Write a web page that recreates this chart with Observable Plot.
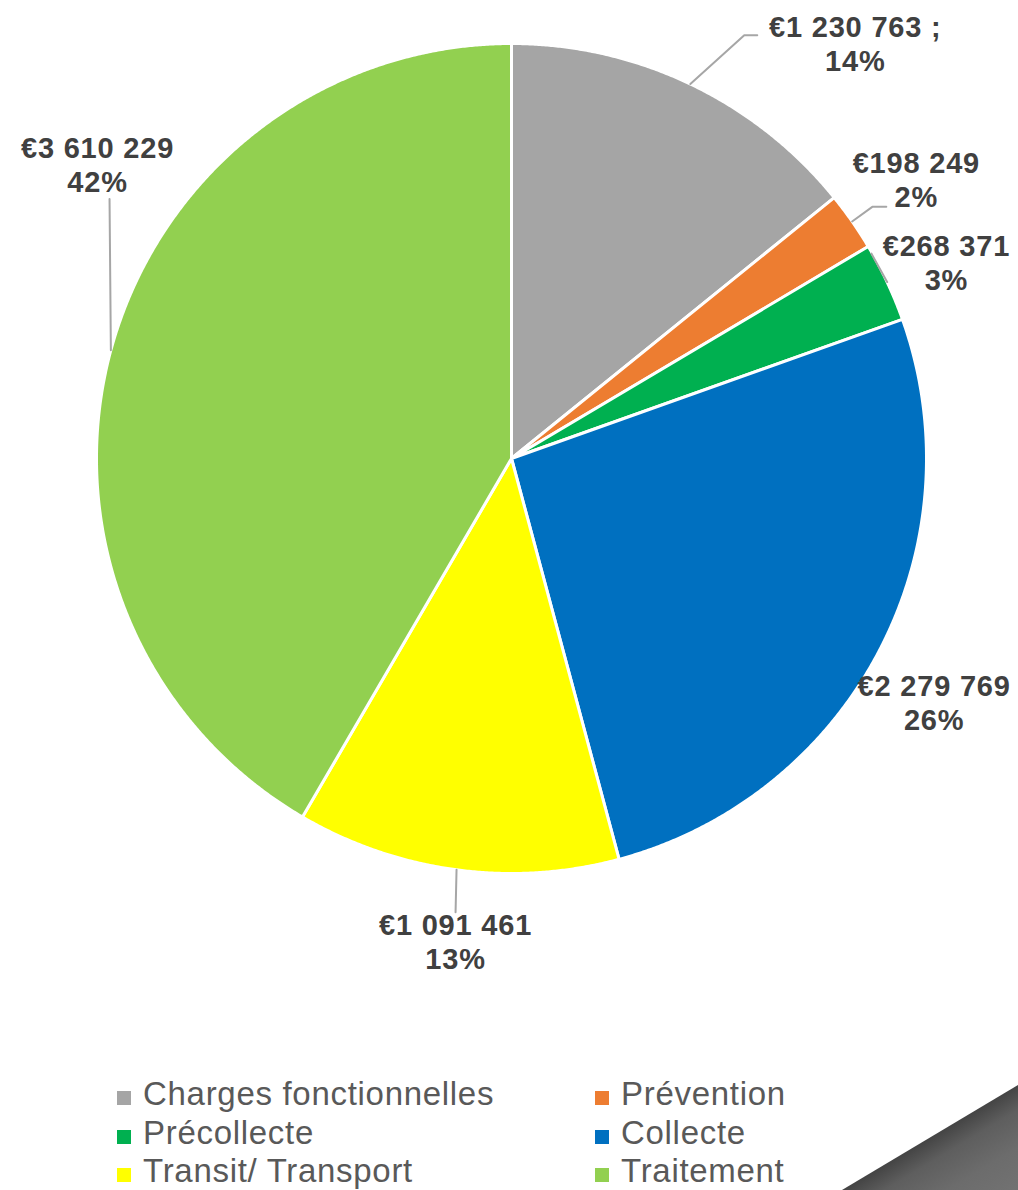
<!DOCTYPE html>
<html>
<head>
<meta charset="utf-8">
<script src="https://cdn.jsdelivr.net/npm/d3@7"></script>
<script src="https://cdn.jsdelivr.net/npm/@observablehq/plot@0.6"></script>
<style>
  html, body { margin: 0; padding: 0; background: #fff; }
  body { position: relative; width: 1018px; height: 1190px; overflow: hidden; font-family: "Liberation Sans", Arial, sans-serif; }
  #legend { position: absolute; left: 117px; top: 1075px; display: grid; grid-template-columns: 478px auto; font-size: 33px; line-height: 38.5px; color: #595959; letter-spacing: 0.7px; }
  #legend .item { white-space: nowrap; }
  #legend .sw { display: inline-block; width: 14px; height: 14px; margin-right: 12px; vertical-align: 0px; }
  #deco { position: absolute; left: 842px; top: 1085px; width: 176px; height: 105px;
    clip-path: polygon(100% 0, 0 100%, 100% 100%);
    background: linear-gradient(149deg, #444 50%, #5e5e5e 62%, #6c6c6c 80%, #727272 100%); }
</style>
</head>
<body>
<div id="chart"></div>
<div id="legend"></div>
<div id="deco"></div>
<script>
// ---- data ----
const categories = ["Charges fonctionnelles", "Prévention", "Précollecte", "Collecte", "Transit/ Transport", "Traitement"];
const values = [1230763, 198249, 268371, 2279769, 1091461, 3610229];
const separators = [" ;", "", "", "", "", ""];
const colors = ["#a5a5a5", "#ed7d31", "#00b050", "#0070c0", "#ffff00", "#92d050"];

// ---- layout (pixels) ----
const W = 1018, H = 1040, CX = 511, CY = 458, R = 415;
// label placement: angle nudge (deg) from slice mid-angle, distance from centre
const labelAngleNudge = [14.1, 0.2, 0.9, 2.3, -1.0, 20.3];
const labelDistance = [539, 492, 477, 488, 486, 508];
// leader-line points relative to the label centre (after the pie-edge start point)
const leaderOffsets = [[[-111, -8], [-98, -8]], [[-44, 28], [-30, 28]], [[-75, -9]], [], [[0, -29]], [[12, 35]]];

const total = d3.sum(values);
const fmt = v => "€" + d3.format(",")(v).replace(/,/g, " ");
const pie = d3.pie().sort(null).value(d => d)(values);
const rad = deg => deg * Math.PI / 180;
const polar = (a, r) => ({x: r * Math.sin(a), y: -r * Math.cos(a)});

// slices as polygons
const slices = pie.map((p, i) => {
  const pts = [{x: 0, y: 0}];
  const n = Math.max(2, Math.ceil((p.endAngle - p.startAngle) / rad(0.25)));
  for (let k = 0; k <= n; k++) {
    const a = p.startAngle + (p.endAngle - p.startAngle) * k / n;
    pts.push(polar(a, R));
  }
  return {name: categories[i], color: colors[i], pts};
});

// labels
const labels = pie.map((p, i) => {
  const mid = (p.startAngle + p.endAngle) / 2;
  const c = polar(mid + rad(labelAngleNudge[i]), labelDistance[i]);
  const pct = Math.round(values[i] / total * 100) + "%";
  return {x: c.x, y: c.y, text: fmt(values[i]) + separators[i] + "\n" + pct, mid, i};
});

const leaders = [];
labels.forEach(l => {
  if (!leaderOffsets[l.i].length) return;
  const s = polar(l.mid, R);
  leaders.push({x: s.x, y: s.y, g: l.i});
  leaderOffsets[l.i].forEach(([dx, dy]) => leaders.push({x: l.x + dx, y: l.y + dy, g: l.i}));
});

const chart = Plot.plot({
  width: W, height: H, margin: 0,
  style: {fontFamily: "'Liberation Sans', Arial, sans-serif", background: "transparent", letterSpacing: "0.8px"},
  x: {domain: [-CX, W - CX], range: [0, W], axis: null},
  y: {domain: [-CY, H - CY], range: [0, H], axis: null},
  marks: [
    ...slices.map(s => Plot.line(s.pts, {x: "x", y: "y", fill: s.color, stroke: "white", strokeWidth: 3, strokeLinejoin: "round", curve: "linear-closed"})),
    Plot.line(leaders, {x: "x", y: "y", z: "g", stroke: "#a6a6a6", strokeWidth: 2}),
    Plot.text(labels, {x: "x", y: "y", text: "text", fontSize: 29, fontWeight: "bold", fill: "#404040", lineHeight: 34 / 29, textAnchor: "middle", lineAnchor: "middle"})
  ]
});
document.getElementById("chart").append(chart);

// legend (row-major, two columns)
const legend = document.getElementById("legend");
categories.forEach((c, i) => {
  const d = document.createElement("div");
  d.className = "item";
  const sw = document.createElement("span");
  sw.className = "sw";
  sw.style.background = colors[i];
  d.append(sw, document.createTextNode(c));
  legend.append(d);
});
</script>
</body>
</html>
